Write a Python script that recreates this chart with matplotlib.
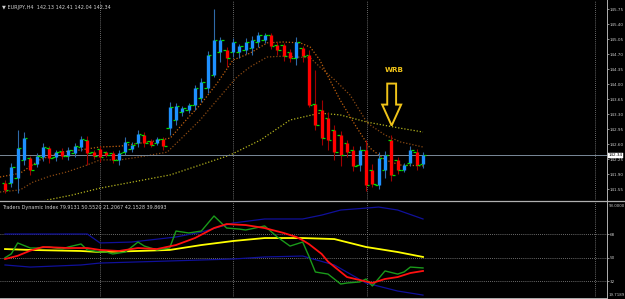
import matplotlib
matplotlib.use("Agg")
import matplotlib.pyplot as plt
from matplotlib.lines import Line2D
from matplotlib.transforms import blended_transform_factory
from matplotlib.patches import Polygon

# ---------------- data ----------------
symbol = "EURJPY,H4"
O = [141.69,141.69,141.81,142.23,142.27,142.13,142.30,142.51,142.30,142.44,
     142.32,142.39,142.53,142.69,142.41,142.48,142.41,142.39,142.23,142.41,
     142.48,142.62,142.81,142.67,142.62,142.72,142.97,143.16,143.35,143.39,
     143.51,143.67,143.91,144.21,144.75,144.79,144.75,144.75,144.79,144.84,
     144.98,145.03,145.14,144.91,144.91,144.75,144.61,144.84,144.68,143.53,
     143.39,143.21,142.93,142.81,142.62,142.46,142.11,142.46,141.99,141.64,
     141.99,142.69,142.23,141.99,142.16,142.41,142.13]
H = [141.76,142.16,142.93,142.88,142.32,142.39,142.62,142.55,142.46,142.51,
     142.53,142.62,142.79,142.79,142.46,142.55,142.44,142.44,142.46,142.76,
     142.65,142.93,142.88,142.72,142.76,142.76,143.58,143.56,143.49,143.56,
     143.98,144.14,144.77,145.75,145.10,144.86,145.07,144.93,145.07,145.12,
     145.21,145.19,145.19,144.98,144.96,144.82,145.10,144.89,144.79,144.33,
     143.63,143.35,143.04,142.90,142.69,142.55,142.55,142.69,142.13,142.41,
     142.44,142.81,142.30,142.16,142.55,142.48,142.41]
L = [141.46,141.60,141.46,142.11,141.88,142.06,142.20,142.16,142.20,142.25,
     142.23,142.30,142.44,142.11,142.25,142.18,142.30,142.16,142.11,142.34,
     142.41,142.53,142.53,142.53,142.58,142.46,142.81,143.04,143.25,143.32,
     143.39,143.58,143.79,144.16,144.51,144.40,144.63,144.61,144.70,144.68,
     144.86,144.96,144.82,144.68,144.54,144.51,144.44,144.51,143.46,142.93,
     142.58,142.46,142.23,142.09,142.30,141.97,141.97,141.50,141.60,141.55,
     141.81,141.74,141.90,141.95,142.09,141.99,142.04]
C = [141.53,142.06,142.51,142.74,141.99,142.32,142.53,142.27,142.41,142.32,
     142.46,142.55,142.72,142.39,142.32,142.30,142.34,142.23,142.39,142.65,
     142.58,142.83,142.62,142.58,142.72,142.55,143.46,143.49,143.44,143.51,
     143.91,144.05,144.68,145.03,145.03,144.61,144.98,144.89,144.98,145.03,
     145.14,145.14,144.89,144.79,144.65,144.61,144.98,144.65,143.51,143.04,
     142.74,142.69,142.41,142.34,142.41,142.09,142.46,141.64,141.67,142.27,
     142.34,141.88,141.99,142.11,142.46,142.11,142.34]

fast_idx = [-0.8, 2.4, 5.5, 8.7, 11.8, 15.0, 18.2, 21.3, 24.5, 26.1, 28.9, 30.8, 33.5, 36.0,
            38.7, 41.4, 43.9, 46.6, 48.2, 49.7, 51.3, 52.9, 55.3, 57.6, 60.0, 62.4, 66.0]
fast_val = [141.83, 141.92, 142.23, 142.41, 142.46, 142.53, 142.55, 142.62, 142.69, 142.74,
            143.21, 143.51, 144.02, 144.56, 144.72, 144.96, 144.98, 144.96, 144.86, 144.56,
            144.09, 143.63, 143.04, 142.51, 142.23, 142.11, 142.09]
mid_idx = [-0.8, 2.4, 4.4, 7.1, 9.8, 12.6, 15.0, 18.2, 21.3, 25.6, 28.4, 30.8, 33.5, 36.6,
           38.7, 41.4, 43.9, 46.1, 48.2, 49.7, 52.1, 54.5, 57.2, 60.0, 62.4, 66.0]
mid_val = [141.48, 141.53, 141.71, 141.85, 141.95, 142.09, 142.23, 142.23, 142.30, 142.41,
           142.81, 143.16, 143.63, 144.16, 144.40, 144.63, 144.65, 144.63, 144.61, 144.40,
           144.09, 143.74, 143.09, 142.81, 142.65, 142.53]
slow_idx = [5.2, 10.6, 15.0, 26.1, 35.5, 40.3, 45.0, 49.7, 52.9, 57.2, 62.4, 66.0]
slow_val = [141.25, 141.41, 141.57, 141.88, 142.34, 142.69, 143.16, 143.32, 143.28, 143.11,
            142.97, 142.88]

price_ticks = [141.55, 141.90, 142.25, 142.60, 142.95, 143.30, 143.65, 144.00, 144.35,
               144.70, 145.05, 145.40, 145.75]
grid_idx = [15, 36, 57.2, 93.2]

# Traders Dynamic Index
tdi_green_idx = [0, 1, 2, 4, 5, 7, 9, 10, 12, 13, 15, 16, 17, 19, 21, 22, 24, 26, 27, 29, 31,
                 33, 35, 37, 38, 41, 43, 45, 47, 48, 49, 51, 53, 54, 56, 57, 58, 60, 62, 63, 64, 66]
tdi_green = [50.0, 53.0, 61.4, 57.5, 57.5, 58.3, 56.7, 58.3, 60.6, 56.0, 54.4, 54.4, 52.9, 54.4,
             62.1, 59.0, 56.0, 57.5, 70.6, 69.1, 70.6, 82.2, 72.9, 72.1, 71.4, 74.5, 66.0, 59.0,
             62.1, 51.0, 39.0, 37.4, 29.7, 30.5, 31.3, 33.6, 28.2, 39.8, 37.4, 39.0, 42.8, 42.1]
tdi_red_idx = [0, 2, 4, 6, 10, 13, 15, 18, 21, 24, 27, 30, 33, 35, 38, 41, 44, 46, 47, 48, 50,
               51, 54, 56, 58, 60, 62, 64, 66]
tdi_red = [49.0, 51.5, 55.5, 58.3, 57.5, 57.5, 56.0, 55.2, 57.5, 56.7, 59.8, 65.2, 72.9, 76.0,
           75.2, 72.9, 69.1, 66.0, 63.5, 60.5, 52.9, 47.0, 35.1, 32.8, 30.5, 33.6, 35.1, 38.2, 39.8]
tdi_yel_idx = [0, 4, 12, 15, 21, 26, 31, 36, 41, 47, 52, 57, 62, 66]
tdi_yel = [56.7, 56.0, 55.2, 54.4, 55.2, 56.0, 59.8, 62.9, 65.2, 65.2, 64.4, 58.3, 54.4, 50.6]
tdi_up_idx = [0, 13, 15, 20, 27, 31, 36, 41, 47, 50, 53, 57, 59, 62, 66]
tdi_up = [68.3, 68.3, 61.4, 62.1, 66.0, 69.8, 76.8, 79.9, 79.9, 82.9, 86.8, 88.3, 89.1, 86.8, 79.9]
tdi_lo_idx = [0, 4, 12, 15, 26, 36, 41, 47, 52, 57, 62, 66]
tdi_lo = [44.4, 42.8, 44.4, 45.9, 47.5, 49.0, 50.6, 51.3, 44.4, 30.5, 24.3, 21.2]
tdi_levels = [68, 50, 32]
tdi_title = "Traders Dynamic Index 79.9131 50.5520 21.2067 42.1528 39.8693"
tdi_top_label = "93.0000"
tdi_bottom_label = "19.7189"
wrb_bar = 61

# ---------------- figure ----------------
W, Hpx = 625, 299
LBL = 3.0
fig = plt.figure(figsize=(W / 100, Hpx / 100), dpi=100, facecolor="black")

def ax_rect(x0, y0, x1, y1):
    return [x0 / W, 1 - y1 / Hpx, (x1 - x0) / W, (y1 - y0) / Hpx]

ax = fig.add_axes(ax_rect(0, 0, 607, 200))
ax2 = fig.add_axes(ax_rect(0, 202, 607, 297))
for a in (ax, ax2):
    a.set_facecolor("black")
    for s in a.spines.values():
        s.set_visible(False)
    a.set_xlim(-0.79, 95.05)
    a.set_xticks([])
    a.yaxis.tick_right()
    a.tick_params(axis="y", colors="#c8c8c8", labelsize=LBL, length=1.2, width=0.5, pad=0.6)

ax.set_ylim(145.96 - 200 * 0.02333, 145.96)
ax2.set_ylim(19.7, 93.0)

# grid
for a in (ax, ax2):
    for g in grid_idx:
        a.axvline(g, color="#8c8c8c", lw=0.6, ls=(0, (1, 1.5)), zorder=1)

# moving averages
ax.plot(slow_idx, slow_val, color="#b4b41e", lw=0.9, ls=(0, (1, 1.5)), zorder=2)
ax.plot(mid_idx, mid_val, color="#8b4a13", lw=0.9, ls=(0, (1, 1.5)), zorder=2)
ax.plot(fast_idx, fast_val, color="#c0600e", lw=0.9, ls=(0, (1, 1.5)), zorder=2)

# current price line
ax.axhline(C[-1], color="#7a8a99", lw=0.7, zorder=2)

# bars
for i in range(len(O)):
    up = C[i] >= O[i]
    body = "#1e90ff" if up else "#ff0000"
    wick = "#2f6aa8" if up else "#a00000"
    ax.vlines(i, L[i], H[i], color=wick, lw=0.8, zorder=3)
    ax.vlines(i, min(O[i], C[i]), max(O[i], C[i]), color=body, lw=2.4, zorder=4)
    ax.hlines(O[i], i - 0.55, i - 0.1, color="#00dd00", lw=0.9, zorder=5)
    ax.hlines(C[i], i + 0.1, i + 0.55, color="#00dd00", lw=0.9, zorder=5)

# WRB annotation
gold = "#f0c419"
tip = H[wrb_bar] + 0.22
top = tip + 0.98
neck = tip + 0.49
xc = wrb_bar + 0.05
arrow = Polygon([(xc - 0.7, top), (xc + 0.7, top), (xc + 0.7, neck), (xc + 1.5, neck),
                 (xc, tip), (xc - 1.5, neck), (xc - 0.7, neck)], closed=True,
                fill=False, edgecolor=gold, lw=1.4, zorder=6)
ax.add_patch(arrow)
ax.text(xc + 0.4, top + 0.32, "WRB", color=gold, fontsize=5.2, ha="center", va="center",
        fontweight="bold", zorder=6)

# price axis labels
ax.set_yticks(price_ticks)
ax.set_yticklabels([f"{v:.2f}" for v in price_ticks])
tr = blended_transform_factory(ax.transAxes, ax.transData)
ax.text(1.0025, C[-1], f"{C[-1]:.2f}", transform=tr, fontsize=LBL, color="black",
        va="center", ha="left",
        bbox=dict(boxstyle="square,pad=0.12", fc="white", ec="white", lw=0.3), zorder=7,
        clip_on=False)

# header
fig.text(2 / W, 1 - 7 / Hpx, "\u25bc " + f"{symbol}  {O[-1]:.2f} {H[-1]:.2f} {L[-1]:.2f} {C[-1]:.2f}",
         color="#d0d0d0", fontsize=3.6, va="center", ha="left")

# TDI panel
for lv in tdi_levels:
    ax2.axhline(lv, color="#909090", lw=0.6, ls=(0, (1, 1.5)), zorder=1)
ax2.plot(tdi_up_idx, tdi_up, color="#10109a", lw=0.9, zorder=2)
ax2.plot(tdi_lo_idx, tdi_lo, color="#10109a", lw=0.9, zorder=2)
ax2.plot(tdi_yel_idx, tdi_yel, color="#ffff00", lw=1.3, zorder=3)
ax2.plot(tdi_green_idx, tdi_green, color="#1a9a1a", lw=1.0, zorder=4)
ax2.plot(tdi_red_idx, tdi_red, color="#ff1010", lw=1.3, zorder=5)
ax2.set_yticks(tdi_levels)
ax2.set_yticklabels([str(v) for v in tdi_levels])
ax2.text(1.0025, 0.955, tdi_top_label, transform=ax2.transAxes, fontsize=2.8, color="#c8c8c8",
         va="center", ha="left", clip_on=False)
ax2.text(1.0025, 0.025, tdi_bottom_label, transform=ax2.transAxes, fontsize=2.8, color="#c8c8c8",
         va="center", ha="left", clip_on=False)
fig.text(2 / W, 1 - 207 / Hpx, tdi_title, color="#d0d0d0", fontsize=3.5, va="center", ha="left")

# frame lines
fig.add_artist(Line2D([607 / W, 607 / W], [0, 1], color="#b0b0b0", lw=0.7))
fig.add_artist(Line2D([0, 1], [1 - 201 / Hpx, 1 - 201 / Hpx], color="#b0b0b0", lw=0.9))
fig.add_artist(Line2D([0, 607 / W], [1 - 297.5 / Hpx, 1 - 297.5 / Hpx], color="#b0b0b0", lw=0.7))

fig.savefig("out.png", dpi=100, facecolor="black")
